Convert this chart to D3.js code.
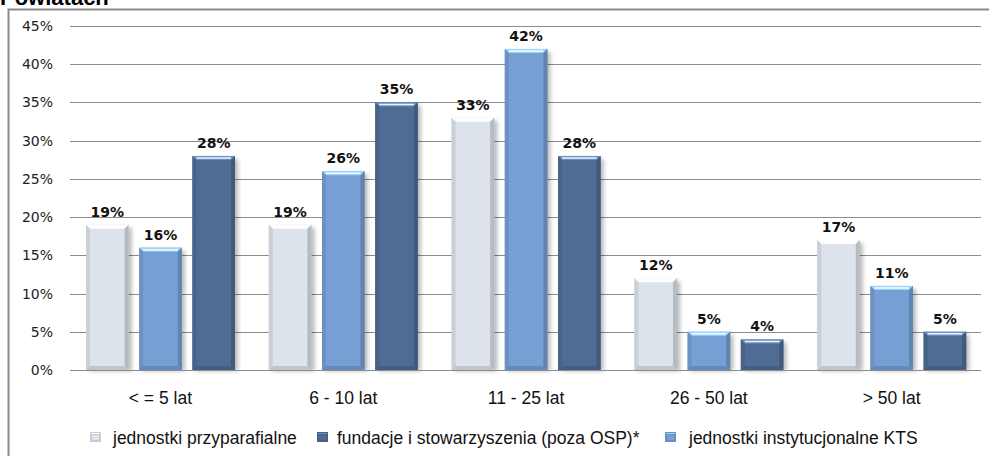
<!DOCTYPE html>
<html><head><meta charset="utf-8">
<script src="https://cdn.jsdelivr.net/npm/d3@7"></script>
<style>html,body{margin:0;padding:0;background:#fff;}svg{display:block;}</style>
</head><body>
<script>
const categories = ["< = 5 lat", "6 - 10 lat", "11 - 25 lat", "26 - 50 lat", "> 50 lat"];
const przyparafialne = [19, 19, 33, 12, 17];
const kts = [16, 26, 42, 5, 11];
const fundacje = [28, 35, 28, 4, 5];
const yTicks = [0, 5, 10, 15, 20, 25, 30, 35, 40, 45];
const seriesNames = ["jednostki przyparafialne", "jednostki instytucjonalne KTS", "fundacje i stowarzyszenia (poza OSP)*"];
const legendOrder = ["jednostki przyparafialne", "fundacje i stowarzyszenia (poza OSP)*", "jednostki instytucjonalne KTS"];
const colors = {"jednostki przyparafialne": "#dce3eb", "jednostki instytucjonalne KTS": "#769fd4", "fundacje i stowarzyszenia (poza OSP)*": "#4f6c94"};
const seriesData = [przyparafialne, kts, fundacje];

const W = 989, H = 456;
const svg = d3.select("body").append("svg").attr("width", W).attr("height", H);
const defs = svg.append("defs");
const f = defs.append("filter").attr("id", "sh").attr("x", "-30%").attr("y", "-10%").attr("width", "160%").attr("height", "130%");
f.append("feGaussianBlur").attr("stdDeviation", 2);

// title (cut off at top, as in the reference)
svg.append("text").attr("x", 0).attr("y", 5).attr("font-family", "Liberation Sans, Arial").attr("font-weight", "bold").attr("font-size", 22).attr("fill", "#000").text("Powiatach");

// frame
svg.append("path").attr("d", `M8.5,${H} V9.5 H${W}`).attr("fill", "none").attr("stroke", "#8a8a8a").attr("stroke-width", 2);

const x0 = d3.scaleBand().domain(categories).range([69, 983]);
const x1 = d3.scaleBand().domain(seriesNames).range([17, 166]).paddingInner(0.2);
const y = d3.scaleLinear().domain([0, 45]).range([370, 26]);

// grid
svg.append("g").selectAll("line").data(yTicks).join("line")
  .attr("x1", 70).attr("x2", 981).attr("y1", d => Math.round(y(d)) + 0.5).attr("y2", d => Math.round(y(d)) + 0.5)
  .attr("stroke", "#8c8c8c").attr("stroke-width", 1);

// y axis labels
const yAxis = d3.axisLeft(y).tickValues(yTicks).tickFormat(d => d + "%").tickSize(0).tickPadding(0);
const ga = svg.append("g").attr("transform", "translate(53,0)").call(yAxis);
ga.select(".domain").remove();
ga.selectAll("text").attr("font-family", "DejaVu Sans, Verdana").attr("font-size", 14).attr("fill", "#222");

function shade(c, k) { return d3.color(c).darker(k).formatHex(); }

const bars = [];
seriesNames.forEach((s, si) => {
  categories.forEach((c, ci) => {
    bars.push({s, c, v: seriesData[si][ci]});
  });
});

const gb = svg.append("g");
bars.forEach(b => {
  const bx = x0(b.c) + x1(b.s), bw = x1.bandwidth();
  const top = y(b.v), bot = y(0);
  const col = colors[b.s];
  const g = gb.append("g");
  g.append("rect").attr("x", bx + 3).attr("y", top + 3).attr("width", bw).attr("height", bot - top - 2)
    .attr("fill", "#000").attr("opacity", 0.28).attr("filter", "url(#sh)");
  g.append("rect").attr("x", bx).attr("y", top).attr("width", bw).attr("height", bot - top).attr("fill", col);
  const e = 4;
  g.append("path").attr("d", `M${bx},${top} H${bx + bw} L${bx + bw - e},${top + e} H${bx + e} Z`)
    .attr("fill", d3.color(col).brighter(0.8).formatHex());
  g.append("line").attr("x1", bx + e).attr("x2", bx + bw - e).attr("y1", top + 2).attr("y2", top + 2)
    .attr("stroke", "#fff").attr("stroke-width", 1.5).attr("opacity", 0.9);
  g.append("path").attr("d", `M${bx},${top} L${bx + e},${top + e} V${bot - e} L${bx},${bot} Z`)
    .attr("fill", shade(col, 0.25));
  g.append("path").attr("d", `M${bx + bw},${top} L${bx + bw - e},${top + e} V${bot - e} L${bx + bw},${bot} Z`)
    .attr("fill", shade(col, 0.55));
  g.append("path").attr("d", `M${bx},${bot} L${bx + e},${bot - e} H${bx + bw - e} L${bx + bw},${bot} Z`)
    .attr("fill", shade(col, 0.4));
  svg.append("text").attr("x", bx + bw / 2).attr("y", top - 8).attr("text-anchor", "middle")
    .attr("font-family", "DejaVu Sans, Verdana").attr("font-weight", "bold").attr("font-size", 14).attr("fill", "#111")
    .text(b.v + "%");
});

svg.append("line").attr("x1", 70).attr("x2", 981).attr("y1", Math.round(y(0)) + 0.5).attr("y2", Math.round(y(0)) + 0.5).attr("stroke", "#8c8c8c");

// category labels
const xAxis = d3.axisBottom(x0).tickSize(0).tickPadding(0);
const gx = svg.append("g").attr("transform", "translate(0,392)").call(xAxis);
gx.select(".domain").remove();
gx.selectAll("text").attr("font-family", "Liberation Sans, Arial").attr("font-size", 17.5).attr("fill", "#111").attr("dy", "0.71em");

// legend
const legX = [90, 317, 665];
const legT = [113, 337, 689];
const lg = svg.append("g");
legendOrder.forEach((s, i) => {
  const col = colors[s];
  const ix = legX[i], iy = 432;
  lg.append("rect").attr("x", ix).attr("y", iy).attr("width", 11).attr("height", 10).attr("fill", shade(col, 0.3));
  lg.append("rect").attr("x", ix + 2).attr("y", iy + 3).attr("width", 7).attr("height", 5).attr("fill", col);
  lg.append("line").attr("x1", ix + 1).attr("x2", ix + 10).attr("y1", iy + 1.5).attr("y2", iy + 1.5).attr("stroke", d3.color(col).brighter(0.8).formatHex());
  lg.append("text").attr("x", legT[i]).attr("y", 444).attr("font-family", "Liberation Sans, Arial").attr("font-size", 17.5).attr("fill", "#111").text(s);
});
</script>
</body></html>
